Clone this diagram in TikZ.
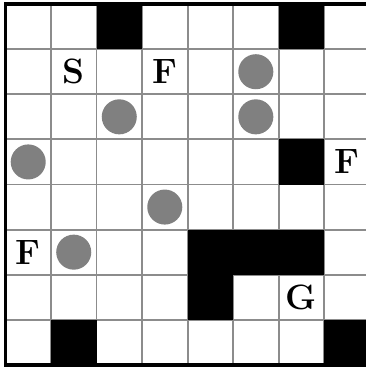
\documentclass[tikz,border=0pt]{standalone}
\usepackage{tikz}
\usepackage{xcolor}
\definecolor{gridgray}{RGB}{140, 140, 140}
\definecolor{coingray}{RGB}{128, 128, 128}

\begin{document}
\begin{tikzpicture}[
            x=1cm, y=0.991cm,
            wall/.style={fill=black},
            gridline/.style={draw=gridgray, line width=1.2pt},
            frame/.style={draw=black, line width=2pt},
            coin/.style={circle, fill=coingray, minimum size=7.7mm, inner sep=0pt},
            letter/.style={font=\fontsize{22}{22}\selectfont\bfseries, inner sep=0pt},
        ]
            \useasboundingbox (-0.12,-0.09) rectangle (7.92,8.09);

            % grid
            \foreach \i in {1,...,7} {
                \draw[gridline] (\i,0) -- (\i,8);
                \draw[gridline] (0,\i) -- (8,\i);
            }

            % walls (column, row from top)
            \foreach \c/\r in {3/1, 7/1, 7/4, 5/6, 6/6, 7/6, 5/7, 2/8, 8/8}
                \fill[wall] (\c-1,8-\r) rectangle (\c,9-\r);

            \draw[frame] (0,0) rectangle (8,8);

            % coins
            \node[coin] (c1) at (5.5,6.5) {};
            \node[coin] (c2) at (2.5,5.5) {};
            \node[coin] (c3) at (5.5,5.5) {};
            \node[coin] (c4) at (0.5,4.5) {};
            \node[coin] (c5) at (3.5,3.5) {};
            \node[coin] (c6) at (1.5,2.5) {};

            % labels
            \node[letter] (start) at (1.5,6.5) {S};
            \node[letter] (f1) at (3.5,6.5) {F};
            \node[letter] (f2) at (7.5,4.5) {F};
            \node[letter] (f3) at (0.5,2.5) {F};
            \node[letter] (goal) at (6.5,1.5) {G};
        \end{tikzpicture}
\end{document}
